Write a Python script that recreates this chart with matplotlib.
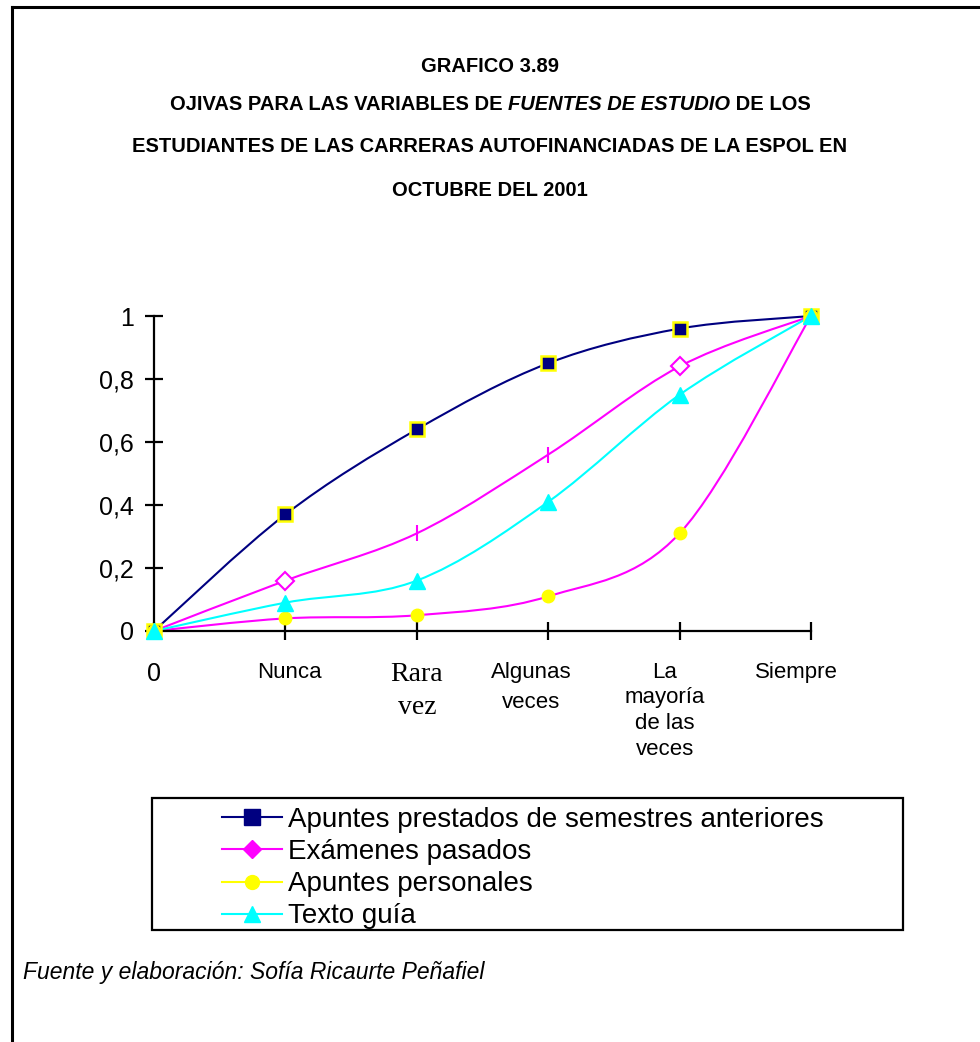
import numpy as np
import matplotlib
matplotlib.use("Agg")
import matplotlib.pyplot as plt
from matplotlib.path import Path
from matplotlib.patches import PathPatch, Rectangle
from matplotlib.lines import Line2D
import matplotlib.transforms as mtransforms

plt.rcParams['font.family'] = ['Liberation Sans', 'DejaVu Sans']

# Datos: frecuencias relativas acumuladas
categorias = ["0", "Nunca", "Rara\nvez", "Algunas\nveces", "La\nmayoría\nde las\nveces", "Siempre"]
apuntes_prestados = [0, 0.37, 0.64, 0.85, 0.96, 1.0]
examenes_pasados = [0, 0.16, 0.31, 0.56, 0.84, 1.0]
apuntes_personales = [0, 0.04, 0.05, 0.11, 0.31, 1.0]
texto_guia = [0, 0.09, 0.16, 0.41, 0.75, 1.0]
y_ticks = [0, 0.2, 0.4, 0.6, 0.8, 1.0]
y_labels = ["0", "0,2", "0,4", "0,6", "0,8", "1"]

x = np.arange(len(categorias))

W, H = 980, 1042


def curva_suave(ax, xs, ys, color, lw=1.5, z=2):
    # curva suavizada tipo Excel (Bezier cubica entre puntos)
    pts = np.column_stack([xs, ys]).astype(float)
    n = len(pts)
    verts = [pts[0]]
    codes = [Path.MOVETO]
    for i in range(n - 1):
        p0 = pts[max(i - 1, 0)]
        p1 = pts[i]
        p2 = pts[i + 1]
        p3 = pts[min(i + 2, n - 1)]
        c1 = p1 + (p2 - p0) / 6.0
        c2 = p2 - (p3 - p1) / 6.0
        verts += [c1, c2, p2]
        codes += [Path.CURVE4] * 3
    patch = PathPatch(Path(verts, codes), facecolor='none', edgecolor=color,
                      lw=lw, zorder=z, clip_on=False)
    ax.add_patch(patch)


fig = plt.figure(figsize=(9.8, 10.42), dpi=100)
renderer = fig.canvas.get_renderer()

# marco de la figura (solo bordes izquierdo y superior visibles)
fig.add_artist(Line2D([12 / W, 12 / W], [0, 1 - 7 / H], transform=fig.transFigure,
                      color='black', lw=2.2))
fig.add_artist(Line2D([12 / W, 1], [1 - 7 / H, 1 - 7 / H], transform=fig.transFigure,
                      color='black', lw=2.2))

# Titulo
tsize = 14.5
fig.text(0.5, 1 - 67 / H, "GRAFICO 3.89", ha='center', va='center',
         fontsize=tsize, fontweight='bold')

# linea con parte en cursiva
partes = [("OJIVAS PARA LAS VARIABLES DE ", 'normal'), ("FUENTES DE ESTUDIO", 'italic'),
          (" DE LOS", 'normal')]
textos = []
for t, st in partes:
    txt = fig.text(0, 1 - 104 / H, t, ha='left', va='center', fontsize=tsize,
                   fontweight='bold', style=st)
    textos.append(txt)
anchos = [tx.get_window_extent(renderer).width for tx in textos]
xpos = (W - sum(anchos)) / 2
for tx, a in zip(textos, anchos):
    tx.set_x(xpos / W)
    xpos += a

fig.text(0.5, 1 - 147 / H,
         "ESTUDIANTES DE LAS CARRERAS AUTOFINANCIADAS DE LA ESPOL EN",
         ha='center', va='center', fontsize=tsize, fontweight='bold')
fig.text(0.5, 1 - 191 / H, "OCTUBRE DEL 2001", ha='center', va='center',
         fontsize=tsize, fontweight='bold')

ax = fig.add_axes([154 / W, 1 - 631 / H, (811 - 154) / W, (631 - 316) / H])

curva_suave(ax, x, apuntes_prestados, '#000080')
ax.plot(x, apuntes_prestados, ls='none', marker='s', ms=10, mfc='#000080',
        mec='#FFFF00', mew=1.8, clip_on=False, zorder=3)

curva_suave(ax, x, examenes_pasados, '#FF00FF')
ax.plot(x[[1, 4]], np.array(examenes_pasados)[[1, 4]], ls='none', marker='D', ms=9,
        mfc='white', mec='#FF00FF', mew=1.5, clip_on=False, zorder=3)
ax.plot(x[[2, 3]], np.array(examenes_pasados)[[2, 3]], ls='none', marker='|', ms=12,
        mec='#FF00FF', mew=1.5, clip_on=False, zorder=3)

curva_suave(ax, x, apuntes_personales, '#FF00FF')
ax.plot(x, apuntes_personales, ls='none', marker='o', ms=9, mfc='#FFFF00',
        mec='#FFFF00', clip_on=False, zorder=3)

curva_suave(ax, x, texto_guia, '#00FFFF')
ax.plot(x, texto_guia, ls='none', marker='^', ms=11, mfc='#00FFFF',
        mec='#00FFFF', clip_on=False, zorder=4)

ax.set_xlim(0, 5)
ax.set_ylim(0, 1)
for s in ['top', 'right']:
    ax.spines[s].set_visible(False)
for s in ['left', 'bottom']:
    ax.spines[s].set_linewidth(1.6)

ax.set_yticks(y_ticks)
ax.set_yticklabels(y_labels, fontsize=18)
ax.set_xticks(x)
ax.set_xticklabels([])
ax.tick_params(axis='both', direction='inout', length=13, width=1.6)
ax.tick_params(axis='y', pad=8)

# etiquetas del eje x (cada una con su formato)
desplaz = [0, 4, 0, -17, -15, -15]
fuentes = ['Liberation Sans'] * 6
fuentes[2] = 'Liberation Serif'
tamanos = [18, 16, 20, 16, 16, 16]
espaciado = [1.2, 1.2, 1.45, 1.6, 1.3, 1.2]
base = mtransforms.blended_transform_factory(ax.transData, ax.transAxes)
for i, lab in enumerate(categorias):
    tr = mtransforms.offset_copy(base, fig=fig, x=desplaz[i] * 0.72, y=-22, units='points')
    ax.text(x[i], 0, lab, transform=tr, ha='center', va='top', fontsize=tamanos[i],
            family=fuentes[i], linespacing=espaciado[i], multialignment='center')

# leyenda
handles = [
    Line2D([], [], color='#000080', marker='s', ms=11, mfc='#000080', mec='#000080'),
    Line2D([], [], color='#FF00FF', marker='D', ms=9, mfc='#FF00FF', mec='#FF00FF'),
    Line2D([], [], color='#FFFF00', marker='o', ms=10, mfc='#FFFF00', mec='#FFFF00'),
    Line2D([], [], color='#00FFFF', marker='^', ms=11, mfc='#00FFFF', mec='#00FFFF'),
]
nombres = ["Apuntes prestados de semestres anteriores", "Exámenes pasados",
           "Apuntes personales", "Texto guía"]
fig.add_artist(Rectangle((152 / W, 1 - 930 / H), (903 - 152) / W, (930 - 798) / H,
                         transform=fig.transFigure, fill=False, edgecolor='black', lw=1.6))
leg = fig.legend(handles, nombres, loc='upper left',
                 bbox_to_anchor=(222 / W, 1 - 807 / H),
                 fontsize=20, frameon=False, handlelength=2.15, handletextpad=0.22,
                 labelspacing=0.22, borderpad=0, borderaxespad=0)

fig.text(23 / W, 1 - 973 / H, "Fuente y elaboración: Sofía Ricaurte Peñafiel",
         ha='left', va='center', fontsize=16.5, style='italic')

fig.savefig("out.png", dpi=100)
